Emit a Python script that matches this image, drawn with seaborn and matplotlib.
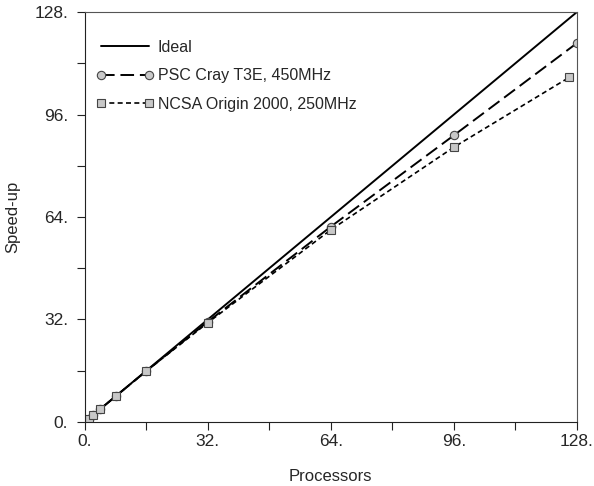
import numpy as np
import pandas as pd
import matplotlib
matplotlib.use("Agg")
import matplotlib.pyplot as plt
import seaborn as sns
from matplotlib.ticker import MultipleLocator, FixedLocator

# DATA
ideal_x = [0, 128]
ideal_y = [0, 128]

cray_procs = [1, 2, 4, 8, 16, 32, 64, 96, 128]
cray_speedup = [1.0, 2.0, 4.0, 8.0, 15.9, 31.3, 61.0, 89.5, 118.3]

ncsa_procs = [1, 2, 4, 8, 16, 32, 64, 96, 126]
ncsa_speedup = [1.0, 2.0, 4.0, 8.0, 15.9, 31.0, 60.0, 85.8, 107.6]

x_ticks = [0, 32, 64, 96, 128]
x_tick_labels = ["0.", "32.", "64.", "96.", "128."]

# PLOT
sns.set_style("white")
plt.rcParams['font.family'] = ['Liberation Sans', 'DejaVu Sans']

fig, ax = plt.subplots(figsize=(5.94, 4.86), dpi=100)
fig.subplots_adjust(left=0.143, right=0.971, bottom=0.132, top=0.975)

sns.lineplot(x=ideal_x, y=ideal_y, ax=ax, color='black', lw=1.4, label='Ideal')
sns.lineplot(x=cray_procs, y=cray_speedup, ax=ax, color='black', lw=1.4,
             dashes=False, linestyle=(0, (7, 3)), marker='o', markersize=6,
             markerfacecolor='#c8c8c8', markeredgecolor='#444444', markeredgewidth=0.8,
             label='PSC Cray T3E, 450MHz')
sns.lineplot(x=ncsa_procs, y=ncsa_speedup, ax=ax, color='black', lw=1.2,
             dashes=False, linestyle=(0, (3, 2)), marker='s', markersize=6,
             markerfacecolor='#c8c8c8', markeredgecolor='#444444', markeredgewidth=0.8,
             label='NCSA Origin 2000, 250MHz')

ax.set_xlim(0, 128)
ax.set_ylim(0, 128)
ax.xaxis.set_major_locator(FixedLocator(x_ticks))
ax.yaxis.set_major_locator(FixedLocator(x_ticks))
ax.set_xticklabels(x_tick_labels)
ax.set_yticklabels(x_tick_labels)
ax.xaxis.set_minor_locator(MultipleLocator(16))
ax.yaxis.set_minor_locator(MultipleLocator(16))
ax.tick_params(which='both', direction='out', length=6, width=0.8, color='#222222',
               labelsize=12.5, bottom=True, left=True, top=False, right=False)
ax.tick_params(axis='x', pad=3)
ax.tick_params(axis='y', pad=6)

for s in ax.spines.values():
    s.set_color('#555555')
    s.set_linewidth(0.8)
ax.spines['left'].set_color('#222222')
ax.spines['bottom'].set_color('#222222')

ax.set_xlabel('Processors', fontsize=12, labelpad=14)
ax.set_ylabel('Speed-up', fontsize=12, labelpad=10)

leg = ax.legend(loc='upper left', bbox_to_anchor=(0.0, 0.96), frameon=False,
                fontsize=11.5, handlelength=3.6, numpoints=2, handletextpad=0.25,
                labelspacing=0.85, borderaxespad=0.3)

fig.savefig('out.png', dpi=100)
